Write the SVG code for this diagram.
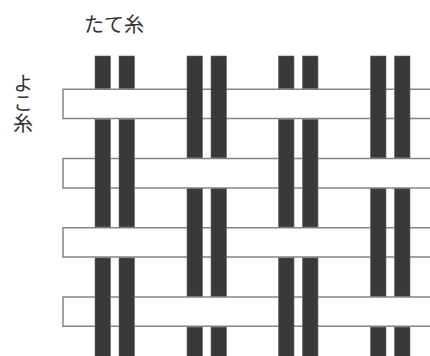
<svg xmlns="http://www.w3.org/2000/svg" width="430" height="356" viewBox="0 0 430 356">
<style>
.warp{fill:#3b3838;stroke:#6a6868;stroke-width:0.6}
.weft{fill:none;stroke:#858585;stroke-width:1.5}
.lbl{font-family:"Noto Sans CJK JP","Noto Sans",sans-serif;font-size:20px;fill:#333333}
</style>
<rect x="0" y="0" width="430" height="356" fill="#ffffff"/>
<g id="label-tate"><text class="lbl" x="114" y="32" text-anchor="middle">たて糸</text></g>
<g id="label-yoko"><text class="lbl" x="23" y="73" style="writing-mode:vertical-rl;text-orientation:upright">よこ糸</text></g>
<g id="weft-threads">
<path class="weft" d="M187,89.3H63V118.6H187M202.5,89.3H211M202.5,118.6H211M226.5,89.3H370.5M226.5,118.6H370.5M386,89.3H394.5M386,118.6H394.5M410,89.3H432M410,118.6H432"/>
<path class="weft" d="M95,158.6H63V187.9H95M110.5,158.6H119M110.5,187.9H119M134.5,158.6H278.5M134.5,187.9H278.5M294,158.6H302.5M294,187.9H302.5M318,158.6H432M318,187.9H432"/>
<path class="weft" d="M187,227.8H63V257.1H187M202.5,227.8H211M202.5,257.1H211M226.5,227.8H370.5M226.5,257.1H370.5M386,227.8H394.5M386,257.1H394.5M410,227.8H432M410,257.1H432"/>
<path class="weft" d="M95,297H63V326.3H95M110.5,297H119M110.5,326.3H119M134.5,297H278.5M134.5,326.3H278.5M294,297H302.5M294,326.3H302.5M318,297H432M318,326.3H432"/>
</g>
<g id="warp-threads">
<g id="warp-1">
<rect class="warp" x="95" y="56" width="15.5" height="32.5"/>
<rect class="warp" x="95" y="119.4" width="15.5" height="107.6"/>
<rect class="warp" x="95" y="257.9" width="15.5" height="100"/>
<rect class="warp" x="119" y="56" width="15.5" height="32.5"/>
<rect class="warp" x="119" y="119.4" width="15.5" height="107.6"/>
<rect class="warp" x="119" y="257.9" width="15.5" height="100"/>
</g>
<g id="warp-2">
<rect class="warp" x="187" y="56" width="15.5" height="101.8"/>
<rect class="warp" x="187" y="188.7" width="15.5" height="107.5"/>
<rect class="warp" x="187" y="327.1" width="15.5" height="30"/>
<rect class="warp" x="211" y="56" width="15.5" height="101.8"/>
<rect class="warp" x="211" y="188.7" width="15.5" height="107.5"/>
<rect class="warp" x="211" y="327.1" width="15.5" height="30"/>
</g>
<g id="warp-3">
<rect class="warp" x="278.5" y="56" width="15.5" height="32.5"/>
<rect class="warp" x="278.5" y="119.4" width="15.5" height="107.6"/>
<rect class="warp" x="278.5" y="257.9" width="15.5" height="100"/>
<rect class="warp" x="302.5" y="56" width="15.5" height="32.5"/>
<rect class="warp" x="302.5" y="119.4" width="15.5" height="107.6"/>
<rect class="warp" x="302.5" y="257.9" width="15.5" height="100"/>
</g>
<g id="warp-4">
<rect class="warp" x="370.5" y="56" width="15.5" height="101.8"/>
<rect class="warp" x="370.5" y="188.7" width="15.5" height="107.5"/>
<rect class="warp" x="370.5" y="327.1" width="15.5" height="30"/>
<rect class="warp" x="394.5" y="56" width="15.5" height="101.8"/>
<rect class="warp" x="394.5" y="188.7" width="15.5" height="107.5"/>
<rect class="warp" x="394.5" y="327.1" width="15.5" height="30"/>
</g>
</g>
</svg>
